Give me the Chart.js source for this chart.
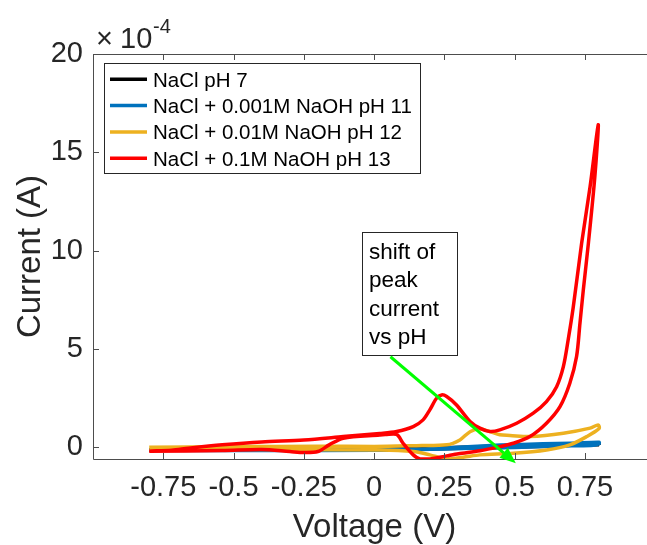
<!DOCTYPE html>
<html>
<head>
<meta charset="utf-8">
<script src="https://cdn.jsdelivr.net/npm/chart.js@4.4.0/dist/chart.umd.min.js"></script>
<style>
  html, body { margin: 0; padding: 0; background: #fff; overflow: hidden; }
  canvas { display: block; }
</style>
</head>
<body>
<canvas id="cv" width="647" height="545"></canvas>
<script>
// ---- data: voltage (V) and current (x1e-4 A), forward scan then back ----
const blackV = [-0.8, -0.4, 0, 0.4, 0.8, 0.4, 0, -0.4, -0.8];
const blackI = [-0.13, -0.14, -0.13, -0.03, 0.12, 0.03, -0.12, -0.15, -0.14];

const blueV = [-0.8, -0.4, 0, 0.2, 0.3, 0.4, 0.5, 0.6, 0.7, 0.8, 0.8, 0.78, 0.7, 0.6, 0.5, 0.4, 0.3, 0.2, 0, -0.4, -0.8];
const blueI = [-0.13, -0.14, -0.12, -0.08, 0.0, 0.08, 0.13, 0.17, 0.2, 0.25, 0.18, 0.1, 0.07, 0.03, -0.01, -0.04, -0.07, -0.11, -0.16, -0.17, -0.15];

const yellowV = [-0.8, -0.5, -0.2, 0.0, 0.15, 0.258, 0.305, 0.341, 0.376, 0.412, 0.447, 0.483, 0.554, 0.673, 0.768, 0.797,
                 0.8, 0.756, 0.696, 0.613, 0.495, 0.376, 0.317, 0.258, 0.198, 0.139, 0.02, -0.4, -0.8];
const yellowI = [0.0, 0.03, 0.05, 0.04, 0.08, 0.12, 0.37, 0.79, 0.92, 0.79, 0.63, 0.6, 0.54, 0.71, 0.97, 1.13,
                 0.95, 0.54, 0.12, -0.14, -0.31, -0.39, -0.51, -0.6, -0.39, -0.22, -0.14, -0.12, -0.1];

const redV = [-0.8, -0.72, -0.66, -0.54, -0.4, -0.25, -0.11, 0.02, 0.08, 0.139, 0.174, 0.198, 0.222, 0.24, 0.258, 0.293, 0.341, 0.376, 0.412, 0.447,
              0.507, 0.566, 0.613, 0.649, 0.673, 0.69, 0.708, 0.738, 0.768, 0.797,
              0.785, 0.762, 0.744, 0.732, 0.72, 0.696, 0.661, 0.613, 0.554, 0.495, 0.447, 0.376, 0.3, 0.258, 0.198, 0.163, 0.139, 0.103, 0.08, 0.04,
              0.02, -0.11, -0.16, -0.2, -0.25, -0.3, -0.4, -0.54, -0.8];
const redI = [-0.2, -0.15, -0.05, 0.12, 0.27, 0.37, 0.54, 0.7, 0.8, 1.05, 1.39, 1.9, 2.49, 2.66, 2.58, 2.15, 1.31, 0.97, 0.8, 0.88,
              1.22, 1.73, 2.32, 3.08, 4.1, 5.45, 7.1, 10.37, 13.25, 16.4,
              13.76, 10.37, 8.0, 6.3, 4.61, 3.25, 2.06, 1.22, 0.54, 0.2, 0.03, -0.18, -0.33, -0.44, -0.6, -0.6, -0.39, 0.2, 0.65, 0.64,
              0.62, 0.46, 0.12, -0.22, -0.27, -0.22, -0.12, -0.17, -0.2];

const seriesNames = ['NaCl pH 7', 'NaCl + 0.001M NaOH pH 11', 'NaCl + 0.01M NaOH pH 12', 'NaCl + 0.1M NaOH pH 13'];
const seriesColors = ['#000000', '#0072BD', '#EDB120', '#FF0000'];

const xTicks = [-0.75, -0.5, -0.25, 0, 0.25, 0.5, 0.75];
const xTickLabels = ['-0.75', '-0.5', '-0.25', '0', '0.25', '0.5', '0.75'];
const yTicks = [0, 5, 10, 15, 20];
const yTickLabels = ['0', '5', '10', '15', '20'];
const noteLines = ['shift of', 'peak', 'current', 'vs pH'];

// annotation placement, in data units
const noteBox = { x0: -0.043, y0: 10.96, x1: 0.295, y1: 4.69 };
const arrowFrom = [0.058, 4.6];
const arrowTo = [0.504, -0.81];

const FONT = '"Liberation Sans", Arial, Helvetica, sans-serif';
const TXT = '#262626';
const AXIS = '#4d4d4d';

function pts(v, i) { return v.map((x, k) => ({ x: x, y: i[k] })); }

const seriesData = [pts(blackV, blackI), pts(blueV, blueI), pts(yellowV, yellowI), pts(redV, redI)];

// ---- extras drawn on top: box, ticks, labels, legend, note ----
const decor = {
  id: 'decor',
  afterDraw(chart) {
    const { ctx, chartArea: a, scales: { x, y } } = chart;
    ctx.save();

    // axes box (right edge is off-screen)
    ctx.strokeStyle = AXIS; ctx.lineWidth = 1;
    ctx.beginPath();
    ctx.moveTo(a.left + 0.5, a.bottom + 0.5); ctx.lineTo(a.left + 0.5, a.top + 0.5); ctx.lineTo(a.right, a.top + 0.5);
    ctx.moveTo(a.left + 0.5, a.bottom + 0.5); ctx.lineTo(a.right, a.bottom + 0.5);
    xTicks.forEach(v => {
      const px = Math.round(x.getPixelForValue(v)) + 0.5;
      ctx.moveTo(px, a.bottom); ctx.lineTo(px, a.bottom - 6);
      ctx.moveTo(px, a.top); ctx.lineTo(px, a.top + 6);
    });
    yTicks.forEach(v => {
      const py = Math.round(y.getPixelForValue(v)) + 0.5;
      ctx.moveTo(a.left, py); ctx.lineTo(a.left + 6, py);
    });
    ctx.stroke();

    // exponent
    ctx.fillStyle = TXT;
    ctx.textBaseline = 'alphabetic'; ctx.textAlign = 'left';
    ctx.font = '29px ' + FONT;
    ctx.fillText('\u00d7', 96, 48);
    ctx.fillText('10', 120, 48);
    ctx.font = '20px ' + FONT;
    ctx.fillText('-4', 153, 33);

    // axis titles
    ctx.font = '33px ' + FONT;
    ctx.textAlign = 'center';
    ctx.fillText('Voltage (V)', 374.5, 537);
    ctx.save();
    ctx.translate(40, (a.top + a.bottom) / 2);
    ctx.rotate(-Math.PI / 2);
    ctx.fillText('Current (A)', 0, 0);
    ctx.restore();

    // legend
    ctx.fillStyle = '#fff';
    ctx.fillRect(104, 63, 317, 110);
    ctx.strokeStyle = '#262626'; ctx.lineWidth = 1;
    ctx.strokeRect(104.5, 63.5, 316, 110);
    ctx.font = '20.5px ' + FONT;
    ctx.textAlign = 'left';
    seriesNames.forEach((name, k) => {
      const cy = 79.3 + k * 26.3;
      ctx.strokeStyle = seriesColors[k]; ctx.lineWidth = 3.5;
      ctx.beginPath(); ctx.moveTo(110, cy); ctx.lineTo(147, cy); ctx.stroke();
      ctx.fillStyle = '#000';
      ctx.fillText(name, 153, cy + 7.3);
    });

    // note box
    const bx0 = x.getPixelForValue(noteBox.x0), by0 = y.getPixelForValue(noteBox.y0);
    const bx1 = x.getPixelForValue(noteBox.x1), by1 = y.getPixelForValue(noteBox.y1);
    ctx.fillStyle = '#fff';
    ctx.fillRect(bx0, by0, bx1 - bx0, by1 - by0);
    ctx.strokeStyle = '#262626'; ctx.lineWidth = 1;
    ctx.strokeRect(Math.round(bx0) + 0.5, Math.round(by0) + 0.5, Math.round(bx1 - bx0), Math.round(by1 - by0));
    ctx.fillStyle = '#000';
    ctx.font = '22.5px ' + FONT;
    noteLines.forEach((t, k) => ctx.fillText(t, bx0 + 7, by0 + 27.6 + k * 28.1));

    // arrow
    const sx = x.getPixelForValue(arrowFrom[0]), sy = y.getPixelForValue(arrowFrom[1]);
    const ex = x.getPixelForValue(arrowTo[0]), ey = y.getPixelForValue(arrowTo[1]);
    const ang = Math.atan2(ey - sy, ex - sx);
    const hl = 16, hw = 6.5;
    const bxh = ex - hl * Math.cos(ang), byh = ey - hl * Math.sin(ang);
    ctx.strokeStyle = '#00FF00'; ctx.fillStyle = '#00FF00'; ctx.lineWidth = 3;
    ctx.beginPath(); ctx.moveTo(sx, sy); ctx.lineTo(bxh, byh); ctx.stroke();
    ctx.beginPath();
    ctx.moveTo(ex, ey);
    ctx.lineTo(bxh + hw * Math.sin(ang), byh - hw * Math.cos(ang));
    ctx.lineTo(bxh - hw * Math.sin(ang), byh + hw * Math.cos(ang));
    ctx.closePath(); ctx.fill();

    ctx.restore();
  }
};

Chart.defaults.font.family = FONT;

new Chart(document.getElementById('cv').getContext('2d'), {
  type: 'scatter',
  data: {
    datasets: seriesNames.map((name, k) => ({
      label: name,
      data: seriesData[k],
      showLine: true,
      borderColor: seriesColors[k],
      backgroundColor: seriesColors[k],
      borderWidth: 3.5,
      pointRadius: 0,
      tension: 0.3,
      order: 3 - k
    }))
  },
  options: {
    responsive: false,
    animation: false,
    devicePixelRatio: 1,
    layout: { padding: { top: 54, right: 0, left: 0, bottom: 0 } },
    plugins: { legend: { display: false }, tooltip: { enabled: false } },
    scales: {
      x: {
        type: 'linear', min: -1, max: 0.9705,
        grid: { display: false, drawTicks: false },
        border: { display: false },
        afterBuildTicks: s => { s.ticks = xTicks.map(v => ({ value: v })); },
        afterFit: s => { s.height = 86; },
        ticks: {
          autoSkip: false, maxRotation: 0, minRotation: 0, padding: 12,
          color: TXT, font: { size: 29 },
          callback: v => xTickLabels[xTicks.indexOf(v)]
        }
      },
      y: {
        type: 'linear', min: -0.6, max: 20,
        grid: { display: false, drawTicks: false },
        border: { display: false },
        afterBuildTicks: s => { s.ticks = yTicks.map(v => ({ value: v })); },
        afterFit: s => { s.width = 93; },
        ticks: {
          padding: 10, color: TXT, font: { size: 29 },
          callback: v => yTickLabels[yTicks.indexOf(v)]
        }
      }
    }
  },
  plugins: [decor]
});
</script>
</body>
</html>
